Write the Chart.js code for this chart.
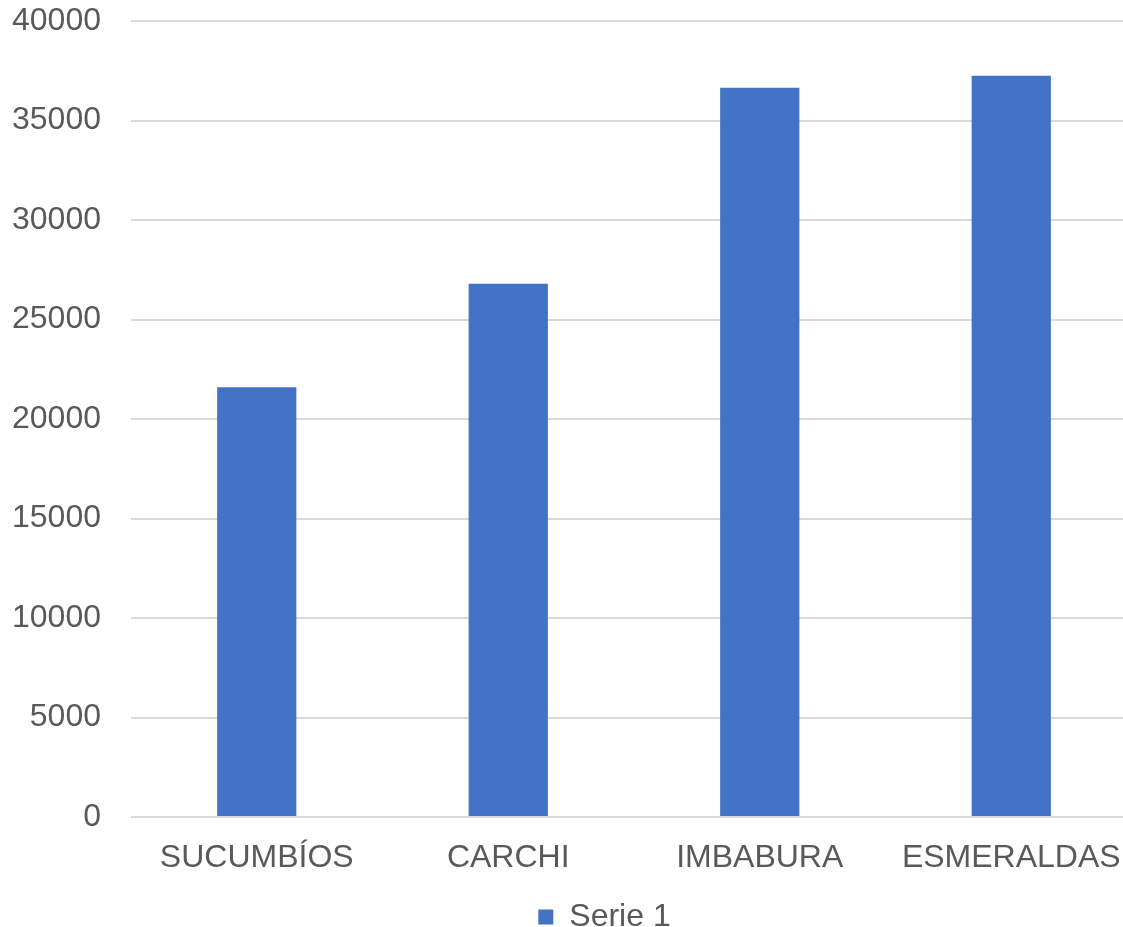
<!DOCTYPE html>
<html>
<head>
<meta charset="utf-8">
<script src="https://cdn.jsdelivr.net/npm/chart.js@4"></script>
<style>
html,body{margin:0;padding:0;background:#fff;overflow:hidden;width:1123px;height:927px;}
#wrap{width:1137px;height:927px;position:relative;}
</style>
</head>
<body>
<div id="wrap"><canvas id="c"></canvas></div>
<script>
const categories = ["SUCUMBÍOS", "CARCHI", "IMBABURA", "ESMERALDAS"];
const seriesName = "Serie 1";
const seriesValues = [21600, 26800, 36650, 37250];
const yMin = 0, yMax = 40000, yStep = 5000;

Chart.defaults.font.family = "'Liberation Sans', Arial, sans-serif";
Chart.defaults.color = "#595959";

const legendShift = {
  id: 'legendShift',
  afterLayout(chart) {
    if (chart.legend) { chart.legend.left += 72; }
  }
};

new Chart(document.getElementById('c'), {
  type: 'bar',
  data: {
    labels: categories,
    datasets: [{
      label: seriesName,
      data: seriesValues,
      backgroundColor: '#4472C4',
      borderWidth: 0,
      categoryPercentage: 1.0,
      barPercentage: 0.315
    }]
  },
  plugins: [legendShift],
  options: {
    responsive: true,
    maintainAspectRatio: false,
    devicePixelRatio: 1,
    animation: false,
    layout: { padding: { left: 0, right: 0, top: 21, bottom: -16 } },
    plugins: {
      tooltip: { enabled: false },
      legend: {
        position: 'bottom',
        labels: {
          boxWidth: 15,
          boxHeight: 15,
          padding: 0,
          font: { size: 32 },
          color: '#595959'
        }
      }
    },
    scales: {
      x: {
        grid: { display: false },
        border: { display: false },
        ticks: { font: { size: 32 }, color: '#595959', padding: 14, maxRotation: 0 },
        afterFit: (s) => { s.height = 84; s.paddingLeft = 0; s.paddingRight = 0; }
      },
      y: {
        min: yMin, max: yMax,
        grid: { color: '#D9D9D9', lineWidth: 2, drawTicks: false },
        border: { display: false },
        ticks: { stepSize: yStep, font: { size: 32 }, color: '#595959', padding: 30,
                 callback: (v) => String(v) },
        afterFit: (s) => { s.width = 131; s.paddingTop = 0; s.paddingBottom = 0; }
      }
    }
  }
});
</script>
</body>
</html>
